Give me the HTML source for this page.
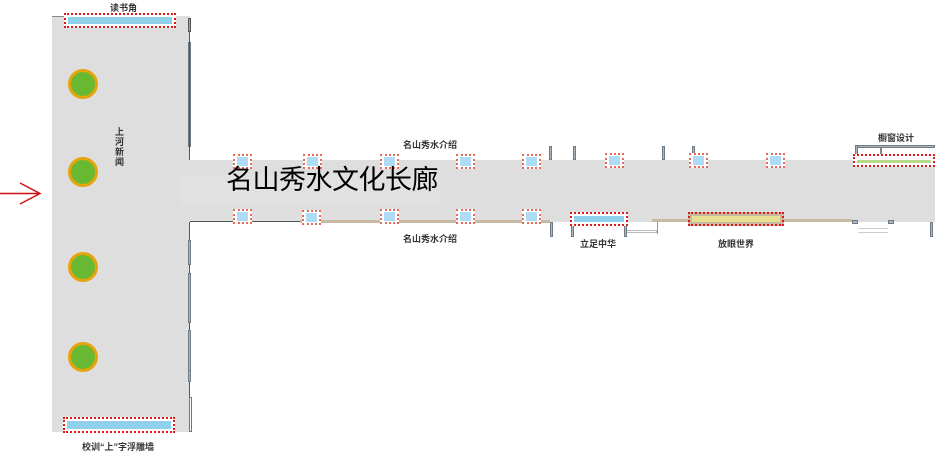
<!DOCTYPE html>
<html><head><meta charset="utf-8"><style>
body{margin:0;width:935px;height:453px;background:#fff;position:relative;overflow:hidden;font-family:"Liberation Sans","Noto Sans CJK SC",sans-serif}
div{position:absolute;box-sizing:border-box}
.sq{width:19px;height:15px;border:2px dotted #e66a5a;background:#fff}
.sq::after{content:"";position:absolute;left:2px;top:1px;width:11px;height:9px;background:#aedcf4}
.dz{border:2.5px dotted #e01818}
.lb{font-size:9px;color:#333;white-space:nowrap;font-weight:bold}
.w{background:#aab6c0;border:1px solid #6f7a84}
.c{width:30px;height:30px;border-radius:50%;background:#68b832;border:3px solid #e6a40a}
</style></head><body>
<div style="left:52px;top:16px;width:138px;height:416px;background:#dedede"></div>
<div style="left:190px;top:160px;width:745px;height:62px;background:#dedede"></div>
<div style="left:180px;top:175px;width:260px;height:29px;background:#e1e1e1"></div>
<div style="left:52px;top:16px;width:14px;height:1px;background:#888"></div>
<div style="left:188px;top:18px;width:3px;height:14px;background:#c8a060;border:1px solid #555"></div>
<div style="left:188px;top:42px;width:3px;height:105px" class="w"></div>
<div style="left:189px;top:32px;width:1px;height:128px;background:#555"></div>
<div style="left:189px;top:222px;width:1px;height:210px;background:#555"></div>
<div style="left:188px;top:240px;width:3px;height:25px" class="w"></div>
<div style="left:188px;top:273px;width:3px;height:50px" class="w"></div>
<div style="left:188px;top:330px;width:3px;height:47px" class="w"></div>
<div style="left:188px;top:370px;width:3px;height:12px" class="w"></div>
<div style="left:189px;top:397px;width:3px;height:35px;border:1px solid #777;background:#fff"></div>
<div style="left:190px;top:221px;width:110px;height:1px;background:#555"></div>
<div style="left:300px;top:220px;width:250px;height:3px;background:#c8b9a4"></div>
<div style="left:652px;top:219px;width:200px;height:3px;background:#c8b9a4"></div>
<div style="left:549px;top:146px;width:3px;height:14px" class="w"></div>
<div style="left:573px;top:146px;width:3px;height:14px" class="w"></div>
<div style="left:662px;top:146px;width:3px;height:14px" class="w"></div>
<div style="left:692px;top:146px;width:3px;height:14px" class="w"></div>
<div style="left:855px;top:145px;width:80px;height:3px" class="w"></div>
<div style="left:855px;top:145px;width:3px;height:15px" class="w"></div>
<div style="left:880px;top:148px;width:2px;height:10px;background:#888"></div>
<div style="left:550px;top:222px;width:3px;height:15px" class="w"></div>
<div style="left:571px;top:222px;width:3px;height:15px" class="w"></div>
<div style="left:624px;top:222px;width:3px;height:15px" class="w"></div>
<div style="left:627px;top:230px;width:30px;height:3px;border:1px solid #bbb;border-left:0"></div>
<div style="left:657px;top:222px;width:1px;height:12px;background:#999"></div>
<div style="left:852px;top:220px;width:6px;height:4px" class="w"></div>
<div style="left:858px;top:228px;width:30px;height:5px;border-top:1px solid #ccc;border-bottom:1px solid #ccc"></div>
<div style="left:888px;top:220px;width:6px;height:4px" class="w"></div>
<div style="left:930px;top:222px;width:3px;height:15px" class="w"></div>
<div class="c" style="left:68px;top:69px"></div>
<div class="c" style="left:68px;top:157px"></div>
<div class="c" style="left:68px;top:252px"></div>
<div class="c" style="left:68px;top:342px"></div>
<div class="dz" style="left:64px;top:13px;width:112px;height:15px;background:#fff;padding:2px"><div style="left:2px;top:2px;right:2px;bottom:2px;background:#8fd0ea"></div></div>
<div class="dz" style="left:63px;top:417px;width:112px;height:16px;background:#fff"><div style="left:2px;top:2px;right:2px;bottom:2px;background:#8fd0ea"></div></div>
<div class="dz" style="left:570px;top:212px;width:58px;height:14px;background:#fff"><div style="left:2px;top:2px;right:2px;bottom:2px;background:#8fd0ea"></div></div>
<div class="dz" style="left:688px;top:212px;width:96px;height:14px;background:#c8b9a4"><div style="left:2px;top:2px;right:2px;bottom:2px;background:#e8e090"></div></div>
<div class="dz" style="left:853px;top:154px;width:82px;height:13px;background:#fff"><div style="left:2px;top:4px;right:2px;bottom:2px;background:#b6d98a"></div></div>
<div class="sq" style="left:233px;top:154px"></div>
<div class="sq" style="left:303px;top:154px"></div>
<div class="sq" style="left:380px;top:154px"></div>
<div class="sq" style="left:456px;top:154px"></div>
<div class="sq" style="left:522px;top:154px"></div>
<div class="sq" style="left:605px;top:153px"></div>
<div class="sq" style="left:689px;top:153px"></div>
<div class="sq" style="left:766px;top:153px"></div>
<div class="sq" style="left:233px;top:209px"></div>
<div class="sq" style="left:302px;top:210px"></div>
<div class="sq" style="left:380px;top:209px"></div>
<div class="sq" style="left:456px;top:209px"></div>
<div class="sq" style="left:522px;top:209px"></div>
<div class="lb" style="left:110px;top:1px">读书角</div>
<div class="lb" style="left:115px;top:127px;width:12px;line-height:10px;white-space:normal">上河新闻</div>
<div class="lb" style="left:82px;top:440px">校训“上”字浮雕墙</div>
<div class="lb" style="left:403px;top:138px">名山秀水介绍</div>
<div class="lb" style="left:403px;top:232px">名山秀水介绍</div>
<div class="lb" style="left:580px;top:237px">立足中华</div>
<div class="lb" style="left:718px;top:237px">放眼世界</div>
<div class="lb" style="left:878px;top:131px">橱窗设计</div>
<div style="left:226px;top:165px;font-size:27px;color:#000;white-space:nowrap;line-height:30px;letter-spacing:-0.5px">名山秀水文化长廊</div>
<svg style="position:absolute;left:0;top:180px" width="45" height="28"><path d="M0 13.5H39M20 3L40 13.5L20 24" stroke="#d01010" stroke-width="1.5" fill="none"/></svg>
</body></html>
